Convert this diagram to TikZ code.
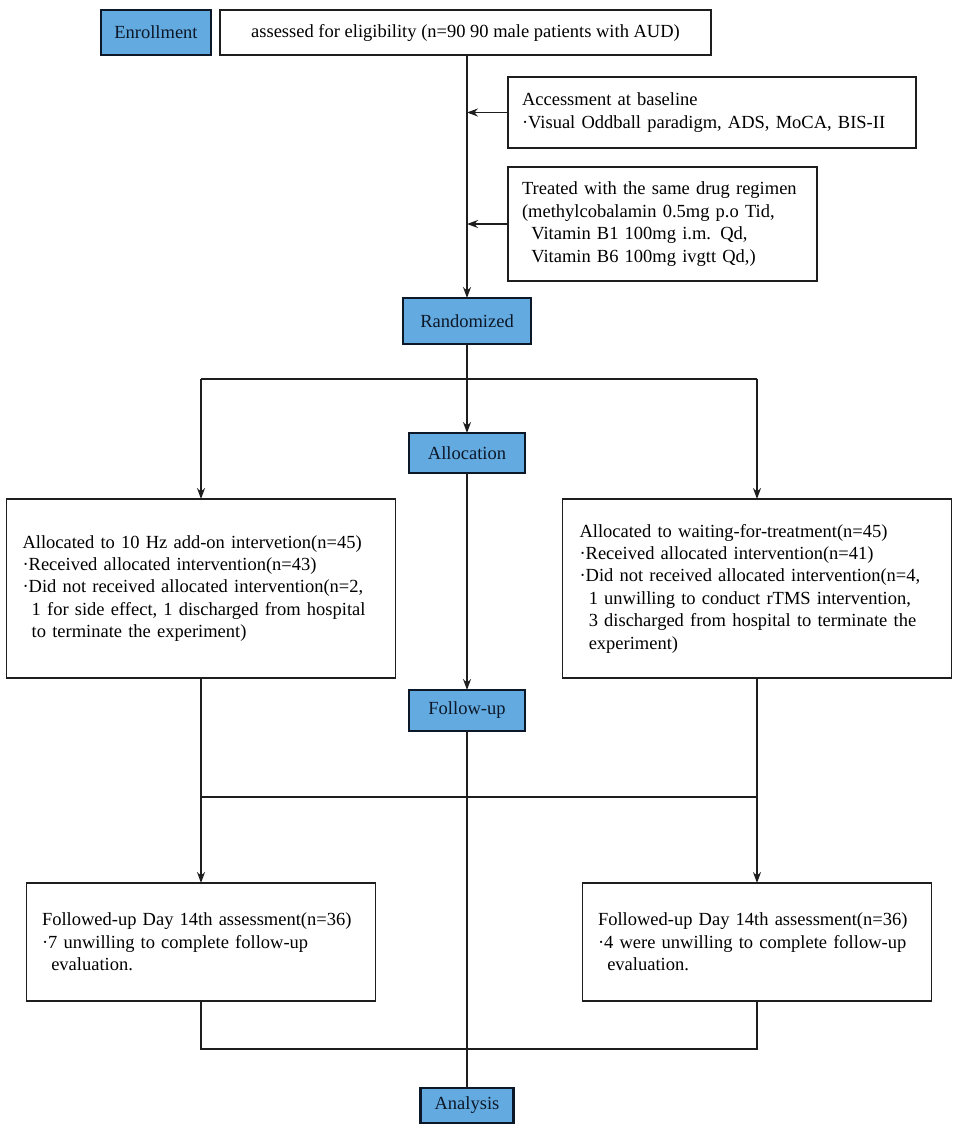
\documentclass[tikz,border=0pt]{standalone}
\usepackage{fontspec}
\setmainfont{Liberation Serif}
\usetikzlibrary{arrows.meta}
\definecolor{boxblue}{RGB}{99,170,224}
\definecolor{inkdark}{RGB}{30,30,30}
\definecolor{navy}{RGB}{12,24,40}
\begin{document}
\begin{tikzpicture}[x=1pt,y=-1pt,
  every node/.style={font=\fontsize{18.5}{22.4}\selectfont, inner sep=0pt, outer sep=0pt},
  box/.style={draw=inkdark, line width=1.6pt, fill=white, align=left, rectangle},
  bluebox/.style={draw=navy, line width=2.2pt, fill=boxblue, align=center, text=navy, rectangle},
  conn/.style={draw=inkdark, line width=1.4pt},
  arr/.style={conn, -{Stealth[length=11pt,width=8pt]}},
]
\useasboundingbox (0,0) rectangle (957,1132);

% top row
\node[bluebox, minimum width=110, minimum height=45] (enr) at (156,32.5) {Enrollment};
\node[box, align=center, minimum width=491, minimum height=45] (assess) at (465.5,32.5)
  {assessed for eligibility (n=90 90 male patients with AUD)};

% baseline boxes
\node[box, inner xsep=14, text width=380, minimum height=71] (acc) at (712,112.5)
  {Accessment at baseline\\
   \textperiodcentered Visual Oddball paradigm, ADS, MoCA, BIS-II};
\node[box, inner xsep=14, text width=281, minimum height=114] (treat) at (662.5,224)
  {Treated with the same drug regimen\\
   (methylcobalamin 0.5mg p.o Tid,\\
   \hspace*{0.5em}Vitamin B1 100mg i.m. Qd,\\
   \hspace*{0.5em}Vitamin B6 100mg ivgtt Qd,)};

% stage labels
\node[bluebox, minimum width=128, minimum height=46] (rand) at (467,321) {Randomized};
\node[bluebox, minimum width=116, minimum height=40] (alloc) at (467,453) {Allocation};
\node[bluebox, minimum width=116, minimum height=41] (fu) at (467,710.5) {Follow-up};
\node[bluebox, minimum width=93, minimum height=35] (an) at (467,1105.5) {Analysis};

% allocation boxes
\node[box, inner xsep=16, text width=357, minimum height=179] (left) at (201,588.5)
  {Allocated to 10 Hz add-on intervetion(n=45)\\
   \textperiodcentered Received allocated intervention(n=43)\\
   \textperiodcentered Did not received allocated intervention(n=2,\\
   \hspace*{0.5em}1 for side effect, 1 discharged from hospital\\
   \hspace*{0.5em}to terminate the experiment)};
\node[box, inner xsep=17, text width=355, minimum height=179] (right) at (757,588.5)
  {Allocated to waiting-for-treatment(n=45)\\
   \textperiodcentered Received allocated intervention(n=41)\\
   \textperiodcentered Did not received allocated intervention(n=4,\\
   \hspace*{0.5em}1 unwilling to conduct rTMS intervention,\\
   \hspace*{0.5em}3 discharged from hospital to terminate the\\
   \hspace*{0.5em}experiment)};

% follow-up boxes
\node[box, inner xsep=15.5, text width=318, minimum height=118] (ll) at (201,942)
  {Followed-up Day 14th assessment(n=36)\\
   \textperiodcentered 7 unwilling to complete follow-up\\
   \hspace*{0.5em}evaluation.};
\node[box, inner xsep=15.5, text width=318, minimum height=118] (rl) at (757,942)
  {Followed-up Day 14th assessment(n=36)\\
   \textperiodcentered 4 were unwilling to complete follow-up\\
   \hspace*{0.5em}evaluation.};

% helper coordinates
\coordinate (hs) at (467,379);
\coordinate (hf) at (467,797);
\coordinate (hb) at (467,1049);

% connectors
\draw[arr] (rand.north |- assess.south) -- (rand.north);
\draw[arr] (acc.west) -- (acc.west -| rand.north);
\draw[arr] (treat.west) -- (treat.west -| rand.north);
\draw[arr] (rand.south) -- (alloc.north);
\draw[conn] (hs -| left.north) -- (hs -| right.north);
\draw[arr] (hs -| left.north) -- (left.north);
\draw[arr] (hs -| right.north) -- (right.north);
\draw[arr] (alloc.south) -- (fu.north);
\draw[arr] (left.south) -- (ll.north);
\draw[arr] (right.south) -- (rl.north);
\draw[conn] (hf -| left.south) -- (hf -| right.south);
\draw[conn] (fu.south) -- (an.north);
\draw[conn] (ll.south) -- (hb -| ll.south) -- (hb -| rl.south) -- (rl.south);
\end{tikzpicture}
\end{document}
